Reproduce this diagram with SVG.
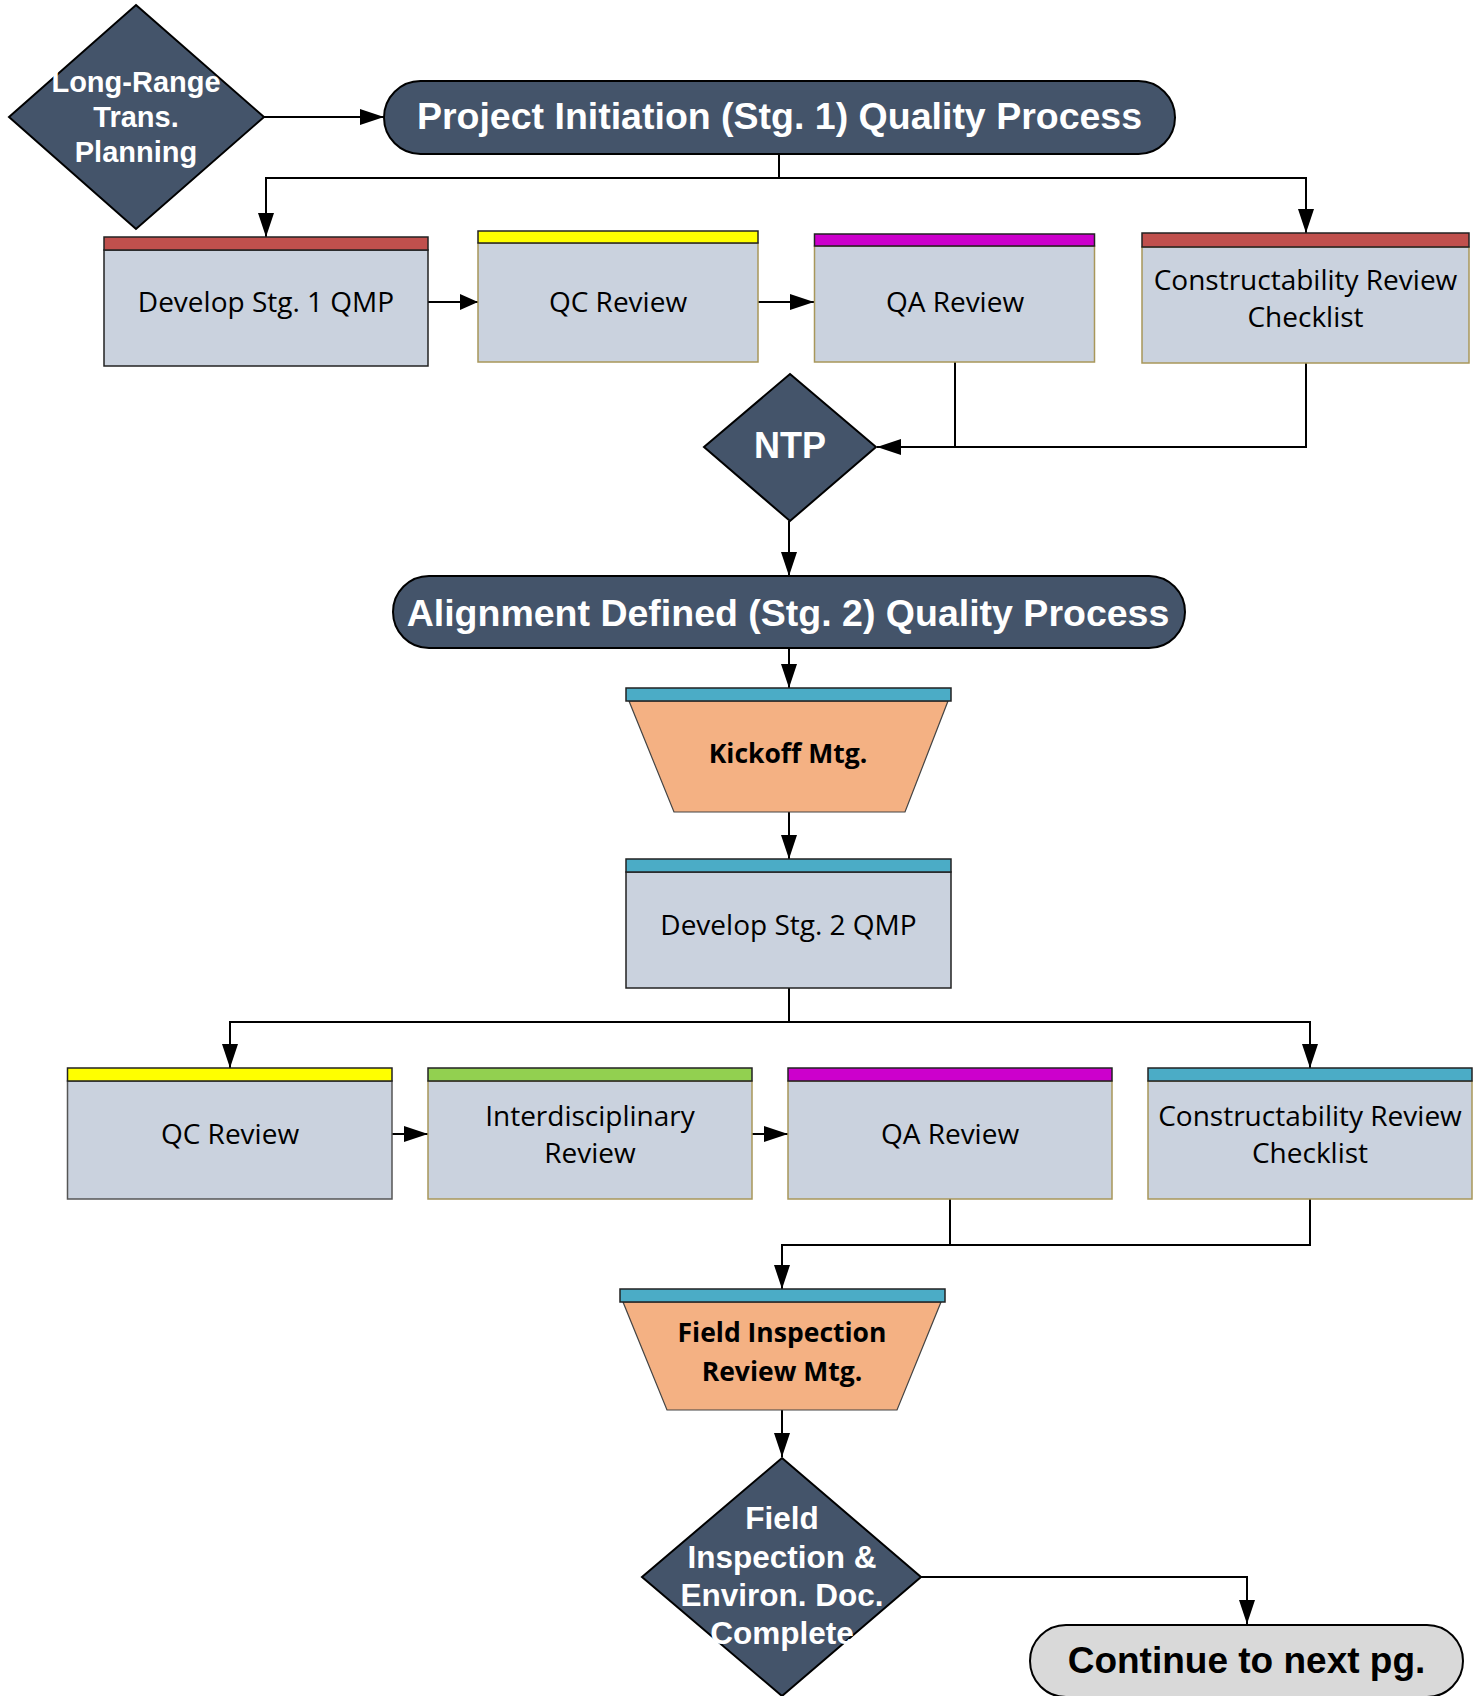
<svg xmlns="http://www.w3.org/2000/svg" width="1478" height="1696" viewBox="0 0 1478 1696">
<defs>
<marker id="ah" markerUnits="userSpaceOnUse" markerWidth="24" markerHeight="16" refX="24" refY="8" orient="auto"><path d="M0,0 L24,8 L0,16 z" fill="#000"/></marker>
<marker id="ahs" markerUnits="userSpaceOnUse" markerWidth="18" markerHeight="16" refX="18" refY="8" orient="auto"><path d="M0,0 L18,8 L0,16 z" fill="#000"/></marker>
</defs>
<style>
.dark{fill:#44546A;stroke:#000;stroke-width:2}
.body{fill:#CAD2DE;stroke:#A8975A;stroke-width:1.5}
.bodyk{fill:#CAD2DE;stroke:#222;stroke-width:1.5}
.bodyg{fill:#CAD2DE;stroke:#555;stroke-width:1.5}
.hdr{stroke:#222;stroke-width:1.5}
.trap{fill:#F4B183;stroke:#444;stroke-width:1.2}
.wt{font-family:"Liberation Sans",Arial,sans-serif;font-weight:bold;fill:#fff;text-anchor:middle}
.bt{font-family:"Liberation Sans",Arial,sans-serif;font-weight:bold;fill:#000;text-anchor:middle}
.rt{font-family:"Open Sans",sans-serif;font-size:28px;fill:#000;text-anchor:middle}
.mt{font-family:"Open Sans",sans-serif;font-size:26.5px;font-weight:bold;fill:#000;text-anchor:middle}
.c{fill:none;stroke:#000;stroke-width:2}
</style>

<g id="connectors">
<path class="c" d="M264,117 H384" marker-end="url(#ah)"/>
<path class="c" d="M779,154 V178 H266 V237" marker-end="url(#ah)"/>
<path class="c" d="M779,178 H1306 V233" marker-end="url(#ah)"/>
<path class="c" d="M428,302 H478" marker-end="url(#ahs)"/>
<path class="c" d="M758,302 H814" marker-end="url(#ah)"/>
<path class="c" d="M955,362 V447 H877" marker-end="url(#ah)"/>
<path class="c" d="M1306,363 V447 H955"/>
<path class="c" d="M789,521 V576" marker-end="url(#ah)"/>
<path class="c" d="M789,648 V688" marker-end="url(#ah)"/>
<path class="c" d="M789,812 V859" marker-end="url(#ah)"/>
<path class="c" d="M789,988 V1022 H230 V1068" marker-end="url(#ah)"/>
<path class="c" d="M789,1022 H1310 V1068" marker-end="url(#ah)"/>
<path class="c" d="M392,1134 H428" marker-end="url(#ah)"/>
<path class="c" d="M752,1134 H788" marker-end="url(#ah)"/>
<path class="c" d="M950,1199 V1245 H782 V1289" marker-end="url(#ah)"/>
<path class="c" d="M1310,1199 V1245 H950"/>
<path class="c" d="M782,1410 V1457" marker-end="url(#ah)"/>
<path class="c" d="M921,1577 H1247 V1624" marker-end="url(#ah)"/>
</g>

<g id="long-range">
<polygon class="dark" points="136,5 264,117 136,229 9,117"/>
<text class="wt" font-size="29" x="136" y="92">Long-Range</text>
<text class="wt" font-size="29" x="136" y="127">Trans.</text>
<text class="wt" font-size="29" x="136" y="162">Planning</text>
</g>

<g id="stage1">
<rect class="dark" x="384" y="81" width="791" height="73" rx="36.5"/>
<text class="wt" font-size="37.5" x="779.5" y="129">Project Initiation (Stg. 1) Quality Process</text>
</g>

<g id="develop1">
<rect class="bodyk" x="104" y="250" width="324" height="116"/>
<rect class="hdr" fill="#C0504D" x="104" y="237" width="324" height="13"/>
<text class="rt" x="266" y="311.5">Develop Stg. 1 QMP</text>
</g>

<g id="qc1">
<rect class="body" x="478" y="243" width="280" height="119"/>
<rect class="hdr" fill="#FFFF00" x="478" y="231" width="280" height="12"/>
<text class="rt" x="618" y="311.5">QC Review</text>
</g>

<g id="qa1">
<rect class="body" x="814.5" y="246" width="280" height="116"/>
<rect class="hdr" fill="#CC00CC" x="814.5" y="234" width="280" height="12"/>
<text class="rt" x="955" y="311.5">QA Review</text>
</g>

<g id="constr1">
<rect class="body" x="1142" y="247" width="327" height="116"/>
<rect class="hdr" fill="#C0504D" x="1142" y="233" width="327" height="14"/>
<text class="rt" x="1305.5" y="290">Constructability Review</text>
<text class="rt" x="1305.5" y="327">Checklist</text>
</g>

<g id="ntp">
<polygon class="dark" points="790,374 876,447 790,521 704,447"/>
<text class="wt" font-size="36" x="790" y="458">NTP</text>
</g>

<g id="stage2">
<rect class="dark" x="393" y="576" width="792" height="72" rx="36"/>
<text class="wt" font-size="37.5" x="788" y="625.5">Alignment Defined (Stg. 2) Quality Process</text>
</g>

<g id="kickoff">
<polygon class="trap" points="629,701 948,701 905,812 674,812"/>
<rect class="hdr" fill="#4BACC6" x="626" y="688" width="325" height="13"/>
<text class="mt" x="788" y="762.5">Kickoff Mtg.</text>
</g>

<g id="develop2">
<rect class="bodyk" x="626" y="872" width="325" height="116"/>
<rect class="hdr" fill="#4BACC6" x="626" y="859" width="325" height="13"/>
<text class="rt" x="788.5" y="934.5">Develop Stg. 2 QMP</text>
</g>

<g id="qc2">
<rect class="bodyg" x="67.5" y="1081" width="324.5" height="118"/>
<rect class="hdr" fill="#FFFF00" x="67.5" y="1068" width="324.5" height="13"/>
<text class="rt" x="230" y="1143.5">QC Review</text>
</g>

<g id="interdisc">
<rect class="body" x="428" y="1081" width="324" height="118"/>
<rect class="hdr" fill="#92D050" x="428" y="1068" width="324" height="13"/>
<text class="rt" x="590" y="1126">Interdisciplinary</text>
<text class="rt" x="590" y="1163">Review</text>
</g>

<g id="qa2">
<rect class="body" x="788" y="1081" width="324" height="118"/>
<rect class="hdr" fill="#CC00CC" x="788" y="1068" width="324" height="13"/>
<text class="rt" x="950" y="1143.5">QA Review</text>
</g>

<g id="constr2">
<rect class="body" x="1148" y="1081" width="324" height="118"/>
<rect class="hdr" fill="#4BACC6" x="1148" y="1068" width="324" height="13"/>
<text class="rt" x="1310" y="1126">Constructability Review</text>
<text class="rt" x="1310" y="1163">Checklist</text>
</g>

<g id="field-mtg">
<polygon class="trap" points="623,1302 941,1302 897,1410 667,1410"/>
<rect class="hdr" fill="#4BACC6" x="620" y="1289" width="325" height="13"/>
<text class="mt" x="782" y="1342">Field Inspection</text>
<text class="mt" x="782" y="1381">Review Mtg.</text>
</g>

<g id="field-complete">
<polygon class="dark" points="782,1458 921,1577 782,1696 642,1577"/>
<text class="wt" font-size="31.5" x="782" y="1529">Field</text>
<text class="wt" font-size="31.5" x="782" y="1568">Inspection &amp;</text>
<text class="wt" font-size="31.5" x="782" y="1606">Environ. Doc.</text>
<text class="wt" font-size="31.5" x="782" y="1644">Complete</text>
</g>

<g id="continue">
<rect fill="#D9D9D9" stroke="#000" stroke-width="2" x="1030" y="1625" width="433" height="72" rx="36"/>
<text class="bt" font-size="37" x="1246.5" y="1673">Continue to next pg.</text>
</g>
</svg>
